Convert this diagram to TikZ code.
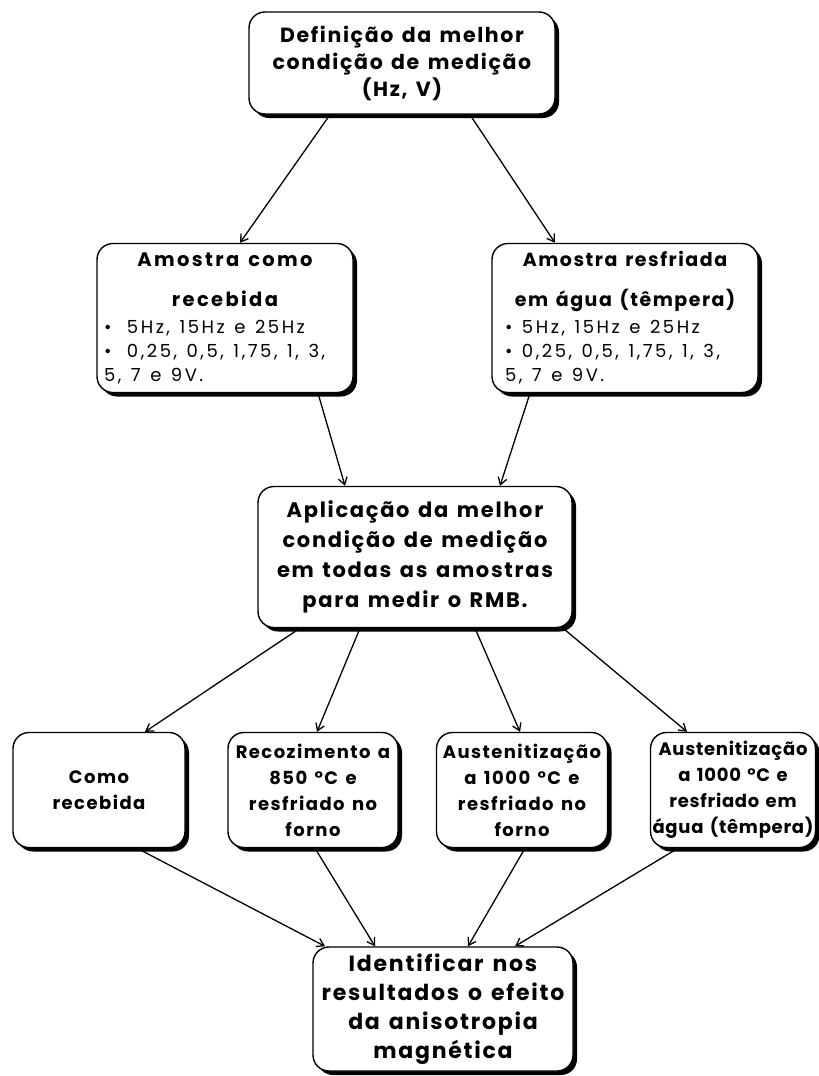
\documentclass[tikz,border=0pt]{standalone}
\usepackage{fontspec}
\setmainfont{Poppins}[LetterSpace=8]
\usetikzlibrary{arrows.meta,shadows}

\newcommand{\titulo}[3]{\fontsize{#1}{#2}\selectfont\bfseries\addfontfeature{LetterSpace=#3}\spaceskip=1.4\fontdimen2\font}
\newcommand{\listafonte}{\fontsize{18}{24}\selectfont\addfontfeature{LetterSpace=14}\spaceskip=1.3\fontdimen2\font}
\newcommand{\marca}[2]{\par\hangindent=#1\hangafter=1\noindent\makebox[#1][l]{\textbullet}#2\par}

\tikzset{
  caixa/.style={draw=black, line width=1.4pt, rounded corners=16pt, fill=white,
    align=center, inner sep=2pt,
    drop shadow={shadow xshift=4pt, shadow yshift=-4pt, opacity=1, fill=black}},
  lista/.style={caixa, align=left},
  seta/.style={-{Straight Barb[length=7pt,width=9pt]}, line width=1.3pt},
}

\begin{document}
\begin{tikzpicture}[x=1pt,y=-1pt]
\useasboundingbox (0,0) rectangle (819,1076);

% caixa do topo
\node[caixa, minimum width=306pt, minimum height=102pt, font=\titulo{20.5}{27}{8}] (def) at (402,63)
  {Definição da melhor\\ condição de medição\\ (Hz, V)};

% amostras
\node[lista, minimum width=256pt, minimum height=149pt, text width=242pt] (receb) at (225,318)
  {\vspace*{12pt}{\centering\titulo{19.5}{28}{12}Amostra como\\ recebida\par}
   \vspace{3pt}\listafonte
   \marca{23pt}{5Hz, 15Hz e 25Hz}
   \marca{23pt}{0,25, 0,5, 1,75, 1, 3,\\ 5, 7 e 9V.}};
\node[lista, minimum width=266pt, minimum height=149pt, text width=240pt] (temp) at (625,318)
  {\vspace*{12pt}{\centering\titulo{19}{28}{8}Amostra resfriada\\ em água (têmpera)\par}
   \vspace{3pt}\listafonte
   \marca{17pt}{5Hz, 15Hz e 25Hz}
   \marca{17pt}{0,25, 0,5, 1,75, 1, 3,\\ 5, 7 e 9V.}};

% aplicacao
\node[caixa, minimum width=314pt, minimum height=141pt, font=\titulo{21}{30}{8}] (aplic) at (415,557)
  {Aplicação da melhor\\ condição de medição\\ em todas as amostras\\ para medir o RMB.};

% tratamentos
\node[caixa, minimum width=172pt, minimum height=115pt, font=\titulo{18}{26}{8}] (cr) at (99,790)
  {Como\\ recebida};
\node[caixa, minimum width=170pt, minimum height=115pt, font=\titulo{18}{26}{8}] (rec850) at (313,790)
  {Recozimento a\\ 850 °C e\\ resfriado no\\ forno};
\node[caixa, minimum width=171pt, minimum height=115pt, font=\titulo{18}{26}{8}] (ausf) at (522,790)
  {Austenitização\\ a 1000 °C e\\ resfriado no\\ forno};
\node[caixa, minimum width=162pt, minimum height=115pt, font=\titulo{18}{26}{4}] (ausa) at (733,790)
  {Austenitização\\ a 1000 °C e\\ resfriado em\\ água (têmpera)};

% resultado
\node[caixa, minimum width=260pt, minimum height=124pt, font=\titulo{22}{29}{8}] (ident) at (443,1009)
  {Identificar nos\\ resultados o efeito\\ da anisotropia\\ magnética};

% setas
\draw[seta] ([xshift=-72pt]def.south) -- ([xshift=15pt]receb.north);
\draw[seta] ([xshift=68pt]def.south) -- ([xshift=-70pt]temp.north);
\draw[seta] ([xshift=93pt]receb.south) -- ([xshift=-70pt]aplic.north);
\draw[seta] ([xshift=-95pt]temp.south) -- ([xshift=85pt]aplic.north);

\draw[seta] ([xshift=-115pt]aplic.south) -- ([xshift=46pt]cr.north);
\draw[seta] ([xshift=-55pt]aplic.south) -- ([xshift=4pt]rec850.north);
\draw[seta] ([xshift=60pt]aplic.south) -- ([xshift=-2pt]ausf.north);
\draw[seta] ([xshift=148pt]aplic.south) -- ([xshift=-46pt]ausa.north);

\draw[seta] ([xshift=38pt]cr.south) -- ([xshift=-118pt]ident.north);
\draw[seta] ([xshift=2pt]rec850.south) -- ([xshift=-68pt]ident.north);
\draw[seta] ([xshift=3pt]ausf.south) -- ([xshift=25pt]ident.north);
\draw[seta] ([xshift=-55pt]ausa.south) -- ([xshift=72pt]ident.north);

\end{tikzpicture}
\end{document}
